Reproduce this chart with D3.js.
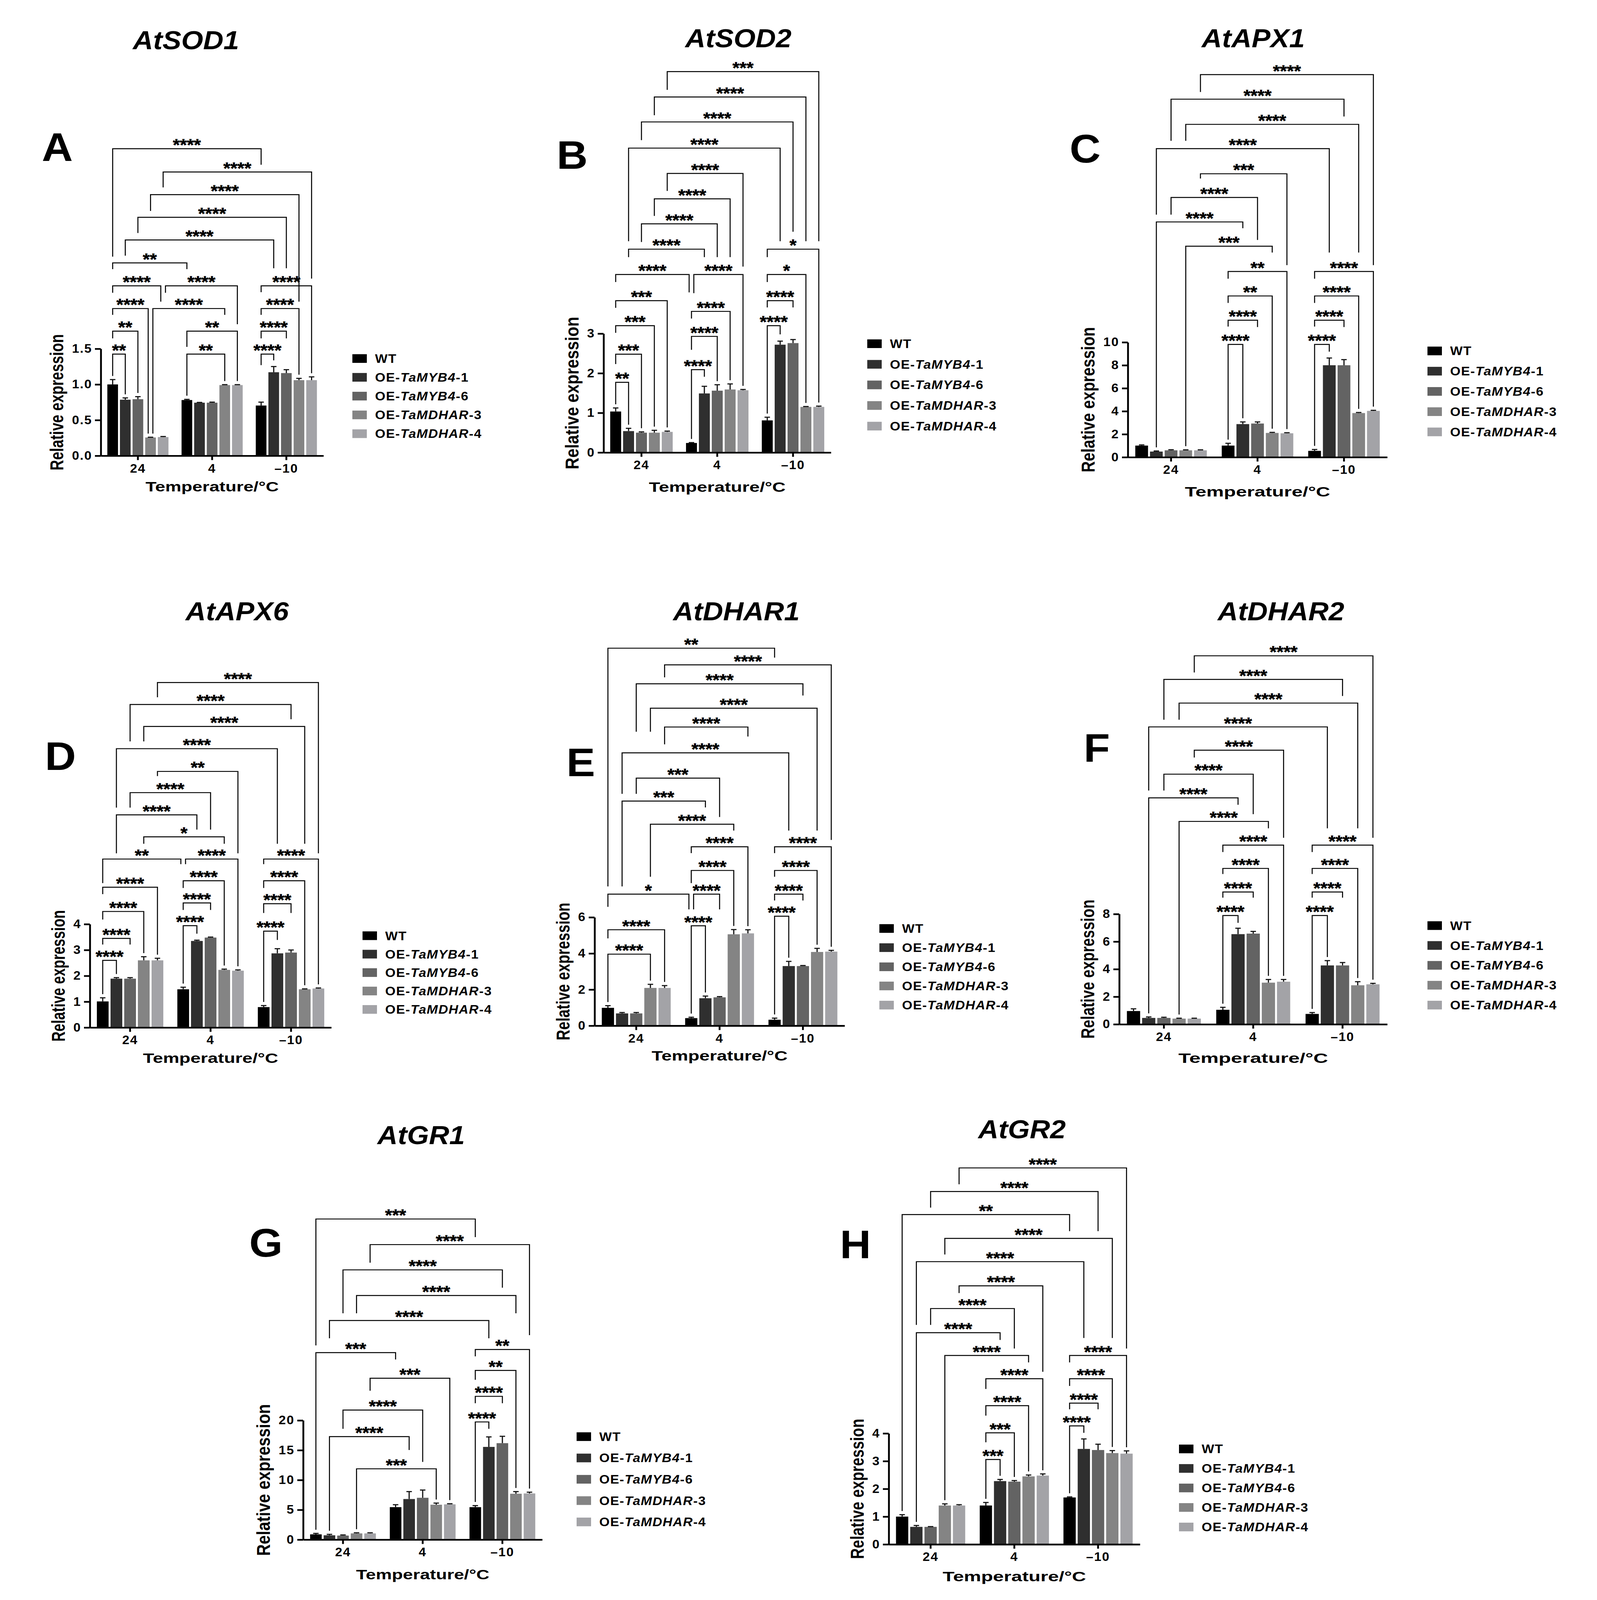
<!DOCTYPE html>
<html><head><meta charset="utf-8">
<script src="https://cdn.jsdelivr.net/npm/d3@7/dist/d3.min.js"></script>
<style>html,body{margin:0;padding:0;background:#fff;overflow:hidden}svg{display:block}</style>
</head><body>
<svg id="fig" viewBox="0 0 4088 4427" preserveAspectRatio="none" style="width:100vw;height:100vh" xmlns="http://www.w3.org/2000/svg"></svg>
<script>
// ---------- shared categories ----------
const groups = ["24", "4", "\u201310"];
const seriesNames = [["WT","",""],["OE-","TaMYB4","-1"],["OE-","TaMYB4","-6"],["OE-","TaMDHAR","-3"],["OE-","TaMDHAR","-4"]];
const seriesColors = ["#000000","#2f2f2f","#636363","#848484","#a3a3a7"];
const panelLetters = ["A","B","C","D","E","F","G","H"];
const geneTitles = ["AtSOD1","AtSOD2","AtAPX1","AtAPX6","AtDHAR1","AtDHAR2","AtGR1","AtGR2"];

// ---------- values: [series][group] ----------
const sod1Mean = [[1.0,0.781,0.704],[0.786,0.744,1.171],[0.793,0.744,1.159],[0.256,0.991,1.06],[0.262,0.991,1.06]];
const sod1Err  = [[0.068,0.01,0.048],[0.025,0.004,0.08],[0.036,0.008,0.048],[0.004,0.006,0.025],[0.008,0.006,0.046]];
const sod1Ticks = [0,0.5,1.0,1.5];

const sod2Mean = [[1.034,0.24,0.81],[0.54,1.49,2.72],[0.50,1.56,2.76],[0.50,1.59,1.15],[0.52,1.57,1.15]];
const sod2Err  = [[0.09,0.01,0.08],[0.07,0.18,0.09],[0.02,0.15,0.09],[0.06,0.14,0.01],[0.02,0.02,0.02]];
const sod2Ticks = [0,1,2,3];

const apx1Mean = [[1.01,1.01,0.55],[0.49,2.88,8.0],[0.60,2.93,8.0],[0.60,2.11,3.84],[0.60,2.08,4.03]];
const apx1Err  = [[0.06,0.2,0.12],[0.05,0.19,0.63],[0.05,0.14,0.49],[0.04,0.05,0.05],[0.04,0.05,0.05]];
const apx1Ticks = [0,2,4,6,8,10];

const apx6Mean = [[1.01,1.48,0.79],[1.89,3.35,2.87],[1.89,3.48,2.90],[2.60,2.23,1.48],[2.60,2.20,1.51]];
const apx6Err  = [[0.14,0.08,0.06],[0.04,0.03,0.18],[0.04,0.02,0.10],[0.14,0.03,0.015],[0.08,0.03,0.02]];
const apx6Ticks = [0,1,2,3,4];

const dhar1Mean = [[0.99,0.42,0.33],[0.68,1.52,3.30],[0.68,1.57,3.30],[2.09,5.06,4.08],[2.09,5.11,4.10]];
const dhar1Err  = [[0.12,0.05,0.09],[0.05,0.12,0.26],[0.05,0.04,0.03],[0.2,0.26,0.2],[0.13,0.2,0.07]];
const dhar1Ticks = [0,2,4,6];

const dhar2Mean = [[0.96,1.05,0.75],[0.46,6.54,4.27],[0.46,6.58,4.27],[0.41,3.02,2.83],[0.41,3.09,2.90]];
const dhar2Err  = [[0.16,0.18,0.1],[0.07,0.43,0.35],[0.05,0.16,0.21],[0.03,0.23,0.26],[0.03,0.16,0.07]];
const dhar2Ticks = [0,2,4,6,8];

const gr1Mean = [[0.89,5.45,5.45],[0.73,6.81,15.55],[0.68,7.02,16.18],[1.05,5.86,7.70],[1.05,5.92,7.75]];
const gr1Err  = [[0.16,0.41,0.26],[0.16,1.25,1.68],[0.11,1.3,1.15],[0.1,0.27,0.36],[0.1,0.1,0.21]];
const gr1Ticks = [0,5,10,15,20];

const gr2Mean = [[1.0,1.40,1.69],[0.63,2.28,3.44],[0.63,2.26,3.40],[1.40,2.45,3.29],[1.40,2.48,3.27]];
const gr2Err  = [[0.07,0.11,0.02],[0.05,0.06,0.36],[0.01,0.04,0.21],[0.06,0.05,0.09],[0.03,0.06,0.10]];
const gr2Ticks = [0,1,2,3,4];

// ---------- significance brackets: [barFrom, barTo, height, label, leftLegEnd, rightLegEnd] ----------
// bar index = groupIndex*5 + seriesIndex; heights in data units; "b" = leg runs down to the bar
const sod1Brackets = [
 [0,1,1.425,"**","b","b"],[0,2,1.747,"**",1.645,"b"],[0,3,2.064,"****",1.976,"b"],[3,8,2.064,"****","b",1.976],
 [0,4,2.382,"****",2.285,2.161],[4,9,2.382,"****",2.285,1.844],[0,5,2.704,"**",2.616,2.616],
 [1,11,3.026,"****",2.805,2.629],[2,12,3.344,"****",3.123,2.629],[3,13,3.661,"****",3.432,2.161],
 [4,14,3.979,"****",3.763,2.483],[0,10,4.305,"****",2.792,4.08],[10,14,2.382,"****",2.294,"b"],
 [10,13,2.064,"****",1.976,"b"],[10,12,1.747,"****",1.645,1.645],[10,11,1.425,"****",1.27,1.337],
 [5,9,1.747,"**",1.526,"b"],[5,8,1.425,"**","b","b"]
];
const sod2Brackets = [
 [0,1,1.77,"**","b","b"],[0,2,2.48,"***",2.23,"b"],[0,3,3.20,"***",3.02,"b"],[0,4,3.83,"***",3.65,"b"],
 [0,5,4.49,"****",4.30,4.04],[5,6,2.09,"****","b",1.91],[5,7,2.93,"****",2.59,"b"],[5,8,3.56,"****",3.38,"b"],
 [5,9,4.49,"****",4.02,"b"],[1,6,5.13,"****",4.93,4.93],[2,7,5.77,"****",5.31,4.93],[3,8,6.40,"****",5.97,4.93],
 [4,9,7.04,"****",6.60,4.69],[1,11,7.68,"****",5.33,5.33],[2,12,8.34,"****",7.88,5.57],[3,13,8.97,"****",8.51,5.33],
 [4,14,9.61,"***",9.15,5.33],[10,11,3.20,"****","b",2.98],[10,12,3.83,"****",3.66,3.66],[10,13,4.49,"*",4.30,"b"],
 [10,14,5.13,"*",4.93,"b"]
];
const apx1Brackets = [
 [5,6,9.81,"****","b","b"],[5,7,11.92,"****",11.37,11.32],[5,8,14.03,"**",13.42,"b"],[5,9,16.16,"**",15.53,"b"],
 [10,11,9.81,"****","b",9.18],[10,12,11.92,"****",11.37,11.32],[10,13,14.03,"****",13.42,"b"],[10,14,16.16,"****",15.53,"b"],
 [3,8,18.36,"***","b",17.81],[1,6,20.47,"****","b",19.92],[2,7,22.60,"****",21.10,18.9],[4,9,24.66,"***",24.25,16.71],
 [1,11,26.85,"****",21.10,17.81],[3,13,28.96,"****",27.53,17.81],[2,12,31.15,"****",27.53,29.64],[4,14,33.29,"****",31.78,16.71]
];
const apx6Brackets = [
 [0,1,2.60,"****","b","b"],[0,2,3.45,"****",3.21,3.21],[0,3,4.49,"****",4.18,"b"],[0,4,5.43,"****",5.16,"b"],
 [0,5,6.52,"**",5.59,6.32],[5,6,3.94,"****","b",3.63],[5,7,4.82,"****",4.55,4.55],[5,8,5.68,"****",5.40,"b"],
 [5,9,6.52,"****",6.32,"b"],[10,11,3.73,"****","b",3.39],[10,12,4.79,"****",4.43,4.43],[10,13,5.68,"****",5.40,"b"],
 [10,14,6.52,"****",6.32,"b"],[3,8,7.38,"*",7.11,7.11],[1,6,8.23,"****",6.74,7.66],[2,7,9.09,"****",8.51,7.66],
 [4,9,9.91,"**",9.73,6.74],[1,11,10.79,"****",8.51,7.11],[3,13,11.65,"****",11.07,7.11],[2,12,12.5,"****",11.07,11.93],
 [4,14,13.35,"****",12.78,6.74]
];
const dhar1Brackets = [
 [0,3,3.96,"****","b","b"],[0,4,5.31,"****",4.83,"b"],[0,5,7.28,"*",6.58,6.44],[5,6,5.53,"****","b","b"],
 [5,7,7.28,"****",6.44,6.44],[5,8,8.59,"****",7.89,"b"],[5,9,9.90,"****",9.55,"b"],[10,11,6.06,"****","b","b"],
 [10,12,7.28,"****",6.93,6.93],[10,13,8.59,"****",8.24,"b"],[10,14,9.90,"****",9.55,"b"],[3,8,11.15,"****",8.24,10.80],
 [1,6,12.43,"***",7.71,12.08],[2,7,13.70,"***",12.83,11.55],[1,11,15.10,"****",12.83,10.80],[4,9,16.53,"****",15.57,16.0],
 [3,13,17.57,"****",16.27,10.80],[2,12,18.92,"****",16.27,18.27],[4,14,19.97,"****",19.28,10.28],[0,10,20.89,"**",7.71,20.37]
];
const dhar2Brackets = [
 [5,6,7.89,"****","b",7.36],[5,7,9.6,"****",9.19,9.19],[5,8,11.31,"****",10.9,"b"],[5,9,13.0,"****",12.5,"b"],
 [10,11,7.89,"****","b","b"],[10,12,9.6,"****",9.19,9.19],[10,13,11.31,"****",10.9,"b"],[10,14,13.0,"****",12.5,"b"],
 [3,8,14.72,"****","b",14.22],[1,6,16.43,"****","b",15.93],[2,7,18.15,"****",16.96,15.25],[4,9,19.89,"****",19.36,13.53],
 [1,11,21.58,"****",16.96,14.22],[3,13,23.31,"****",22.1,14.22],[2,12,25.03,"****",22.1,23.82],[4,14,26.74,"****",25.53,13.53]
];
const gr1Brackets = [
 [10,11,19.74,"****","b",18.59],[10,12,24.03,"****",22.88,22.88],[10,13,28.38,"**",26.81,"b"],[10,14,31.88,"**",30.73,"b"],
 [3,8,11.88,"***","b","b"],[1,6,17.28,"****","b",15.03],[2,7,21.73,"****",18.59,13.04],[4,9,27.07,"***",24.97,"b"],
 [0,5,31.36,"***","b",30.21],[1,11,36.75,"****",33.77,33.77],[3,13,40.94,"****",37.96,37.96],[2,12,45.24,"****",37.96,42.25],
 [4,14,49.48,"****",46.44,34.29],[0,10,53.77,"***",32.57,50.73]
];
const gr2Brackets = [
 [5,6,3.06,"***","b","b"],[5,7,4.02,"***",3.68,"b"],[5,8,5.0,"****",4.64,"b"],[5,9,5.97,"****",5.6,"b"],
 [10,11,4.27,"****","b",4.02],[10,12,5.09,"****",4.87,4.87],[10,13,5.97,"****",5.71,"b"],[10,14,6.81,"****",6.56,"b"],
 [3,8,6.81,"****","b",6.56],[1,6,7.63,"****","b",7.37],[2,7,8.50,"****",7.91,7.06],[4,9,9.32,"****",9.06,6.22],
 [1,11,10.19,"****",7.91,7.44],[3,13,11.03,"****",10.45,7.44],[0,10,11.89,"**","b",11.29],[2,12,12.72,"****",12.14,11.29],
 [4,14,13.57,"****",12.98,7.06]
];

const panels = [
 {mean:sod1Mean, err:sod1Err, ticks:sod1Ticks, fmt:".1f", brackets:sod1Brackets},
 {mean:sod2Mean, err:sod2Err, ticks:sod2Ticks, fmt:"d", brackets:sod2Brackets},
 {mean:apx1Mean, err:apx1Err, ticks:apx1Ticks, fmt:"d", brackets:apx1Brackets},
 {mean:apx6Mean, err:apx6Err, ticks:apx6Ticks, fmt:"d", brackets:apx6Brackets},
 {mean:dhar1Mean, err:dhar1Err, ticks:dhar1Ticks, fmt:"d", brackets:dhar1Brackets},
 {mean:dhar2Mean, err:dhar2Err, ticks:dhar2Ticks, fmt:"d", brackets:dhar2Brackets},
 {mean:gr1Mean, err:gr1Err, ticks:gr1Ticks, fmt:"d", brackets:gr1Brackets},
 {mean:gr2Mean, err:gr2Err, ticks:gr2Ticks, fmt:"d", brackets:gr2Brackets}
];

// ---------- layout (pixels) ----------
// yl: length of y-axis title, xl: length of x-axis title, xo: baseline offset of x-axis title
const layout = [
 {x0:258, x1:828, y0:1261, y1:965, tx:476, ty:136, lx:107, ly:445, gx:902, gy:992, gdy:52, yl:377, xl:341, xo:99},
 {x0:1545, x1:2127, y0:1252, y1:923, tx:1890, ty:131, lx:1425, ly:467, gx:2220, gy:951, gdy:57, yl:422, xl:350, xo:109},
 {x0:2887, x1:3551, y0:1265, y1:947, tx:3208, ty:131, lx:2738, ly:450, gx:3654, gy:971, gdy:56, yl:402, xl:372, xo:109},
 {x0:230, x1:848, y0:2843, y1:2557, tx:607, ty:1716, lx:115, ly:2130, gx:928, gy:2589, gdy:51, yl:364, xl:346, xo:98},
 {x0:1522, x1:2162, y0:2838, y1:2538, tx:1885, ty:1716, lx:1450, ly:2148, gx:2251, gy:2569, gdy:53, yl:381, xl:348, xo:96},
 {x0:2865, x1:3551, y0:2834, y1:2529, tx:3279, ty:1716, lx:2774, ly:2108, gx:3654, gy:2561, gdy:55, yl:385, xl:383, xo:107},
 {x0:776, x1:1388, y0:4260, y1:3930, tx:1078, ty:3166, lx:638, ly:3477, gx:1476, gy:3975, gdy:59, yl:420, xl:341, xo:110},
 {x0:2275, x1:2918, y0:4273, y1:3966, tx:2616, ty:3149, lx:2150, ly:3481, gx:3018, gy:4009, gdy:54, yl:388, xl:367, xo:102}
];

const FONT = "'Liberation Sans', Arial, Helvetica, sans-serif";
const svg = d3.select("#fig");
svg.append("rect").attr("width",4088).attr("height",4427).attr("fill","#fff");

function drawPanel(p, L, k) {
  const g = svg.append("g");
  const x = d3.scaleBand().domain(groups).range([L.x0, L.x1]);
  const y = d3.scaleLinear().domain([0, p.ticks[p.ticks.length-1]]).range([L.y0, L.y1]);
  const pitch = x.bandwidth()*0.17;
  const bw = pitch - 5;
  const cx = i => x(groups[Math.floor(i/5)]) + x.bandwidth()/2 + (i%5 - 2)*pitch;
  const bars = [];
  p.mean.forEach((row, s) => row.forEach((v, gi) => bars.push({s, gi, v, e:p.err[s][gi], i:gi*5+s})));
  const topOf = i => { const b = bars.find(d => d.i === i); return y(b.v + b.e); };

  g.selectAll("rect.bar").data(bars).join("rect")
    .attr("x", d => cx(d.i) - bw/2).attr("width", bw)
    .attr("y", d => y(d.v)).attr("height", d => y(0) - y(d.v))
    .attr("fill", d => seriesColors[d.s]);

  // error bars (upper only)
  const eb = g.append("g").attr("stroke","#111").attr("stroke-width",3);
  eb.selectAll("line.v").data(bars).join("line")
    .attr("x1", d => cx(d.i)).attr("x2", d => cx(d.i))
    .attr("y1", d => y(d.v)).attr("y2", d => y(d.v + d.e));
  eb.selectAll("line.c").data(bars).join("line")
    .attr("x1", d => cx(d.i) - 7).attr("x2", d => cx(d.i) + 7)
    .attr("y1", d => y(d.v + d.e)).attr("y2", d => y(d.v + d.e));

  // brackets
  const br = p.brackets.map(b => {
    const yl = y(b[2]);
    const lb = b[4] === "b" ? topOf(b[0]) - 10 : y(b[4]);
    const rb = b[5] === "b" ? topOf(b[1]) - 10 : y(b[5]);
    return {a:b[0], b:b[1], yl, lb, rb, label:b[3], dl:0, dr:0};
  });
  br.forEach(r => br.forEach(l => {
    if (r !== l && r.b === l.a) {
      const overlap = Math.max(r.yl, l.yl) <= Math.min(r.rb, l.lb);
      if (overlap) { r.dr = -6; l.dl = 6; }
    }
  }));
  const bg = g.append("g");
  bg.selectAll("path").data(br).join("path")
    .attr("d", d => { const xa = cx(d.a) + d.dl, xb = cx(d.b) + d.dr;
      return `M${xa},${d.lb}V${d.yl}H${xb}V${d.rb}`; })
    .attr("fill","none").attr("stroke","#000").attr("stroke-width",2.6);
  bg.selectAll("text").data(br).join("text")
    .attr("x", d => (cx(d.a) + d.dl + cx(d.b) + d.dr)/2).attr("y", d => d.yl + 5)
    .attr("text-anchor","middle").attr("font-family",FONT).attr("font-weight","bold")
    .attr("font-size",46).attr("stroke","#000").attr("stroke-width",0.8).text(d => d.label);

  // axes
  const ya = g.append("g").attr("transform",`translate(${L.x0},0)`)
    .call(d3.axisLeft(y).tickValues(p.ticks).tickSize(15).tickSizeOuter(0).tickPadding(7).tickFormat(d3.format(p.fmt)));
  const xa = g.append("g").attr("transform",`translate(0,${L.y0})`)
    .call(d3.axisBottom(x).tickSize(12).tickSizeOuter(0).tickPadding(11));
  [ya, xa].forEach(a => {
    a.attr("font-family",FONT).attr("font-size",33).attr("font-weight","bold");
    a.select(".domain").attr("stroke-width",4.7).attr("stroke","#000");
    a.selectAll(".tick line").attr("stroke-width",4.7).attr("stroke","#000");
    a.selectAll(".tick text").attr("fill","#000").attr("letter-spacing",2);
  });
  let tw = 0;
  ya.selectAll("text").each(function(){ tw = Math.max(tw, this.getBBox().width); });
  const labX = L.x0 - 15 - 7 - tw - 22;
  const labY = (L.y0 + L.y1)/2;
  g.append("text").attr("transform",`translate(${labX},${labY}) rotate(-90)`)
    .attr("text-anchor","middle").attr("font-family",FONT).attr("font-weight","bold")
    .attr("font-size",48).attr("textLength",L.yl).attr("lengthAdjust","spacingAndGlyphs")
    .text("Relative expression");
  g.append("text").attr("x",(L.x0 + L.x1)/2).attr("y",L.y0 + L.xo)
    .attr("text-anchor","middle").attr("font-family",FONT).attr("font-weight","bold")
    .attr("font-size",38).attr("textLength",L.xl).attr("lengthAdjust","spacingAndGlyphs")
    .text("Temperature/\u00B0C");

  // title and panel letter
  g.append("text").attr("x",L.tx).attr("y",L.ty).attr("text-anchor","middle")
    .attr("font-family",FONT).attr("font-weight","bold").attr("font-style","italic")
    .attr("font-size",72).text(geneTitles[k]);
  g.append("text").attr("x",L.lx).attr("y",L.ly)
    .attr("font-family",FONT).attr("font-weight","bold").attr("font-size",110).text(panelLetters[k]);

  // legend
  const lg = g.append("g");
  seriesNames.forEach((nm, s) => {
    const cy = L.gy + s*L.gdy;
    lg.append("rect").attr("x",L.gx).attr("y",cy - 12).attr("width",37).attr("height",24).attr("fill",seriesColors[s]);
    const t = lg.append("text").attr("x",L.gx + 58).attr("y",cy + 12)
      .attr("font-family",FONT).attr("font-weight","bold").attr("font-size",34).attr("letter-spacing",1.5);
    t.append("tspan").text(nm[0]);
    if (nm[1]) t.append("tspan").attr("font-style","italic").text(nm[1]);
    if (nm[2]) t.append("tspan").text(nm[2]);
  });
}

panels.forEach((p, k) => drawPanel(p, layout[k], k));
</script>
</body></html>
